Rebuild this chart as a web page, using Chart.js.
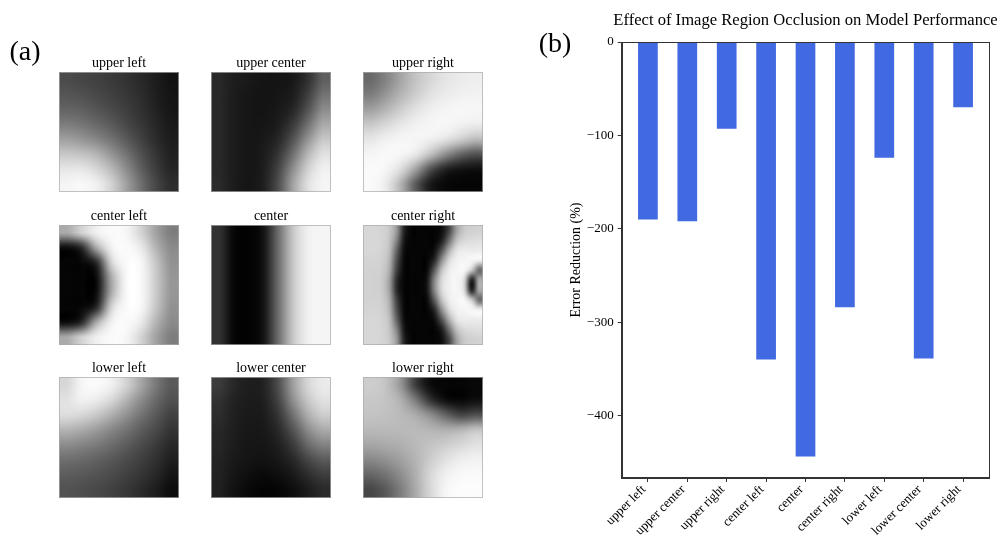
<!DOCTYPE html>
<html><head><meta charset="utf-8">
<script src="https://cdn.jsdelivr.net/npm/chart.js@4.4.0/dist/chart.umd.min.js"></script>
<style>
html,body{margin:0;padding:0;background:#fff;overflow:hidden;}
#wrap{position:relative;width:1002px;height:540px;}
#ca{position:absolute;left:0;top:0;}
#cb{position:absolute;left:530px;top:0;}
</style></head><body>
<div id="wrap">
<canvas id="ca" width="530" height="540"></canvas>
<canvas id="cb" width="472" height="540"></canvas>
</div>
<script>
// ---- data ----
const regions = ['upper left','upper center','upper right','center left','center','center right','lower left','lower center','lower right'];
const errorReduction = [-190, -192, -93, -340, -444, -284, -124, -339, -70];
const yTickValues = [0, -100, -200, -300, -400];
const chartTitle = 'Effect of Image Region Occlusion on Model Performance';

// occlusion maps (grayscale 0-255)
const imgUpperLeft = [
 [75,70,65,58,50,40,28,18],
 [85,80,72,64,55,44,30,20],
 [100,95,85,74,62,48,33,22],
 [125,118,105,90,72,55,38,25],
 [160,150,135,115,90,65,43,28],
 [200,195,180,150,115,80,52,32],
 [230,230,215,185,140,95,60,38],
 [245,248,240,210,160,110,70,45]];
const imgUpperCenter = [
 [40,30,25,20,20,25,50,95],
 [40,28,22,20,22,30,65,115],
 [40,28,22,20,25,40,85,140],
 [40,28,22,22,30,60,115,170],
 [40,28,22,25,40,85,150,200],
 [40,28,22,28,55,115,185,225],
 [40,28,22,30,70,145,210,240],
 [42,28,22,32,80,165,225,245]];
const imgUpperRight = [
 [105,130,165,195,215,228,235,238],
 [125,150,180,205,225,235,240,242],
 [160,180,205,225,238,244,246,246],
 [200,215,230,240,245,246,240,235],
 [230,240,245,245,238,225,205,185],
 [245,248,245,230,190,140,100,80],
 [250,245,220,160,80,35,20,15],
 [250,235,180,90,25,8,5,5]];
const imgCenterLeft = [
 [170,210,240,250,245,210,160,125],
 [15,45,170,240,250,232,178,138],
 [5,8,45,210,250,245,195,145],
 [5,5,15,170,248,247,200,150],
 [5,5,15,170,248,247,200,150],
 [5,8,45,210,250,245,195,145],
 [15,45,170,240,250,232,178,138],
 [170,210,240,250,245,210,160,125]];
const imgCenter = [
 [50,8,3,20,110,200,240,245],
 [50,8,3,20,110,200,240,245],
 [50,8,3,20,110,200,240,245],
 [50,8,3,20,110,200,240,245],
 [50,8,3,20,110,200,240,245],
 [50,8,3,20,110,200,240,245],
 [50,8,3,20,110,200,240,245],
 [50,8,3,20,110,200,240,245]];
const imgCenterRight = [
 [215,215,212,200,150,35,5,5,5,5,15,70,160,200,208,210],
 [215,215,212,195,130,25,5,5,5,5,30,110,190,215,220,222],
 [215,215,210,190,100,15,5,5,5,15,80,170,225,235,235,235],
 [212,212,208,180,80,10,5,5,5,40,140,215,240,245,245,240],
 [210,210,205,172,65,8,5,5,10,90,190,235,245,245,200,110],
 [210,208,202,160,45,6,5,5,20,130,215,240,245,215,40,170],
 [210,208,202,160,45,6,5,5,20,130,215,240,245,215,40,170],
 [210,210,205,172,65,8,5,5,10,90,190,235,245,245,200,110],
 [212,212,208,180,80,10,5,5,5,40,140,215,240,245,245,240],
 [215,215,210,190,100,15,5,5,5,15,80,170,225,235,235,235],
 [215,215,212,195,130,25,5,5,5,5,30,110,190,215,220,222],
 [215,215,212,200,150,35,5,5,5,5,15,70,160,200,208,210]];
const imgLowerLeft = [
 [215,245,250,240,210,165,120,90],
 [225,240,235,215,180,140,105,80],
 [220,215,200,175,145,115,88,65],
 [180,170,155,135,115,92,72,52],
 [140,132,122,108,92,75,58,40],
 [110,105,97,87,75,62,47,30],
 [92,88,82,74,64,52,38,20],
 [82,78,72,65,55,42,28,12]];
const imgLowerCenter = [
 [60,40,30,35,80,160,215,235],
 [50,35,28,32,70,145,200,225],
 [45,32,26,28,55,115,175,205],
 [40,30,24,25,42,85,140,170],
 [38,28,22,22,32,60,105,130],
 [35,25,20,18,24,40,70,90],
 [33,22,14,10,14,25,45,60],
 [32,18,8,4,6,14,28,42]];
const imgLowerRight = [
 [205,195,150,60,12,5,5,8],
 [200,195,175,120,50,15,8,15],
 [195,192,185,170,140,100,70,80],
 [185,185,185,185,180,175,180,195],
 [165,170,175,185,195,205,215,225],
 [135,145,160,180,205,225,238,242],
 [100,115,140,175,215,240,248,250],
 [70,90,125,170,215,245,252,252]];
const occlusionMaps = [imgUpperLeft, imgUpperCenter, imgUpperRight, imgCenterLeft, imgCenter, imgCenterRight, imgLowerLeft, imgLowerCenter, imgLowerRight];

const SERIF = '"Liberation Serif", "Times New Roman", serif';

// smooth (Catmull-Rom) resampling of a small grid into a w x h canvas
function crWeights(t){
  const t2 = t*t, t3 = t2*t;
  return [(-t3 + 2*t2 - t)/2, (3*t3 - 5*t2 + 2)/2, (-3*t3 + 4*t2 + t)/2, (t3 - t2)/2];
}
function renderGrid(grid, w, h){
  const n = grid.length, m = grid[0].length;
  const c = document.createElement('canvas'); c.width = w; c.height = h;
  const g = c.getContext('2d');
  const id = g.createImageData(w, h);
  const cl = (v, hi) => Math.max(0, Math.min(hi, v));
  for (let py=0; py<h; py++){
    const v = Math.max(0, Math.min(n-1, (py+0.5)*n/h - 0.5));
    const j = Math.floor(v), ty = v - j, wy = crWeights(ty);
    for (let px=0; px<w; px++){
      const u = Math.max(0, Math.min(m-1, (px+0.5)*m/w - 0.5));
      const i = Math.floor(u), tx = u - i, wx = crWeights(tx);
      let s = 0;
      for (let a=0;a<4;a++){
        const row = grid[cl(j-1+a, n-1)];
        let rs = 0;
        for (let b=0;b<4;b++) rs += wx[b]*row[cl(i-1+b, m-1)];
        s += wy[a]*rs;
      }
      const val = Math.max(0, Math.min(255, Math.round(s)));
      const p = (py*w+px)*4;
      id.data[p]=val; id.data[p+1]=val; id.data[p+2]=val; id.data[p+3]=255;
    }
  }
  g.putImageData(id,0,0);
  return c;
}

// ---- panel (a) ----
const IMG = 0.79; // image size in grid-pitch units
const panelAPlugin = {
  id: 'panelA',
  afterDraw(chart){
    const ctx = chart.ctx, xs = chart.scales.x, ys = chart.scales.y;
    occlusionMaps.forEach((grid, k) => {
      const row = Math.floor(k/3), col = k%3;
      const x0 = Math.round(xs.getPixelForValue(col)), x1 = Math.round(xs.getPixelForValue(col+IMG));
      const y0 = Math.round(ys.getPixelForValue(row)), y1 = Math.round(ys.getPixelForValue(row+IMG));
      ctx.save();
      ctx.drawImage(renderGrid(grid, x1-x0, y1-y0), x0, y0);
      ctx.strokeStyle = 'rgba(170,170,170,0.7)';
      ctx.lineWidth = 1;
      ctx.strokeRect(x0+0.5, y0+0.5, x1-x0-1, y1-y0-1);
      ctx.fillStyle = '#000';
      ctx.font = '14px ' + SERIF;
      ctx.textAlign = 'center';
      ctx.textBaseline = 'alphabetic';
      ctx.fillText(regions[k], (x0+x1)/2, y0-5.5);
      ctx.restore();
    });
    ctx.save();
    ctx.fillStyle = '#000';
    ctx.font = '28px ' + SERIF;
    ctx.textAlign = 'center';
    ctx.textBaseline = 'middle';
    ctx.fillText('(a)', 25, 53);
    ctx.restore();
  }
};

new Chart(document.getElementById('ca'), {
  type: 'scatter',
  data: { datasets: [] },
  options: {
    responsive: false, animation: false,
    layout: { padding: { left: 59.3, right: 530-483.3, top: 72, bottom: 540-497.5 } },
    plugins: { legend: { display: false }, tooltip: { enabled: false } },
    scales: {
      x: { type: 'linear', min: 0, max: 2.79, display: false },
      y: { type: 'linear', min: 0, max: 2.79, reverse: true, display: false }
    }
  },
  plugins: [panelAPlugin]
});

// ---- panel (b) ----
const framePlugin = {
  id: 'frame',
  afterDraw(chart){
    const {ctx, chartArea: a} = chart;
    ctx.save();
    ctx.strokeStyle = '#333';
    ctx.lineWidth = 1;
    ctx.strokeRect(Math.round(a.left)+0.5, Math.round(a.top)+0.5, Math.round(a.right-a.left)-1, Math.round(a.bottom-a.top)-1);
    ctx.fillStyle = '#000';
    ctx.font = '16.6px ' + SERIF;
    ctx.textAlign = 'center';
    ctx.textBaseline = 'middle';
    ctx.fillText(chartTitle, (a.left + a.right)/2, 21);
    ctx.font = '28px ' + SERIF;
    ctx.fillText('(b)', 25, 45);
    ctx.restore();
  }
};

new Chart(document.getElementById('cb'), {
  type: 'bar',
  data: {
    datasets: [{
      data: errorReduction.map((v, i) => ({ x: i, y: v })),
      backgroundColor: '#4169E1',
      borderWidth: 0,
      barPercentage: 0.5,
      categoryPercentage: 1.0
    }]
  },
  options: {
    responsive: false, animation: false,
    layout: { padding: { left: 34.2, right: 12.7, top: 42, bottom: 0 } },
    plugins: { legend: { display: false }, tooltip: { enabled: false }, title: { display: false } },
    scales: {
      x: {
        type: 'linear', min: -0.665, max: 8.665, offset: false,
        afterBuildTicks: s => { s.ticks = regions.map((_, i) => ({ value: i })); },
        afterFit: s => { s.height = 62; },
        ticks: {
          callback: v => regions[v], autoSkip: false, minRotation: 45, maxRotation: 45,
          color: '#000', font: { family: SERIF, size: 13 }, padding: 0, labelOffset: -4
        },
        grid: { offset: false, drawOnChartArea: false, drawTicks: true, tickLength: 4, color: '#333' },
        border: { color: '#333', width: 1 }
      },
      y: {
        type: 'linear', min: -467, max: 0,
        afterBuildTicks: s => { s.ticks = yTickValues.map(v => ({ value: v })); },
        afterFit: s => { s.width = 57.5; },
        ticks: {
          callback: v => (v < 0 ? '\u2212' + Math.abs(v) : String(v)),
          color: '#000', font: { family: SERIF, size: 13 }, padding: 4
        },
        grid: { drawOnChartArea: false, drawTicks: true, tickLength: 4, color: '#333' },
        border: { color: '#333', width: 1 },
        title: {
          display: true, text: 'Error Reduction (%)', color: '#000',
          font: { family: SERIF, size: 14 }, padding: { top: 3.4, bottom: 0 }
        }
      }
    }
  },
  plugins: [framePlugin]
});
</script>
</body></html>
